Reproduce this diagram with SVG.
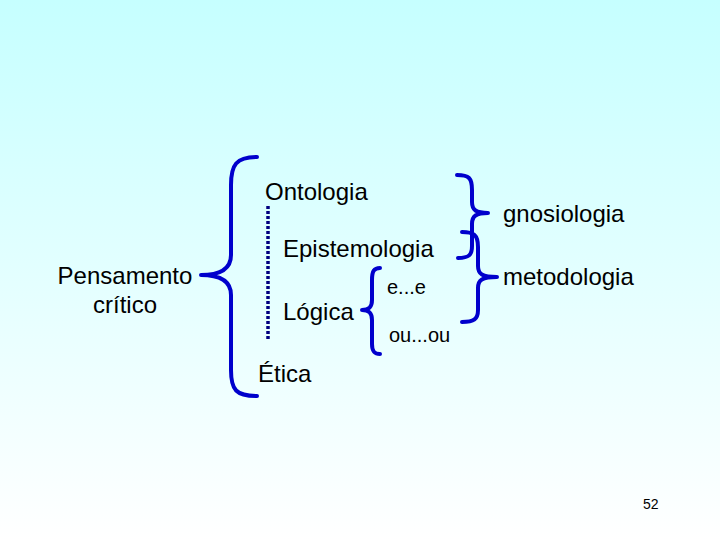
<svg xmlns="http://www.w3.org/2000/svg" width="720" height="540" viewBox="0 0 720 540">
<defs>
<linearGradient id="bg" x1="0" y1="0" x2="0" y2="1">
<stop offset="0" stop-color="#c6ffff"/>
<stop offset="1" stop-color="#ffffff"/>
</linearGradient>
</defs>
<style>
text{font-family:"Liberation Sans",Arial,sans-serif;fill:#000}
.t{font-size:24px}
.s{font-size:20px}
.brace{fill:none;stroke:#0000cc;stroke-width:4;stroke-linecap:round;stroke-linejoin:round}
</style>
<rect width="720" height="540" fill="url(#bg)"/>
<g id="connectors">
<path class="brace" d="M257,157 C236,157 231,165 231,185 L231,255 C231,268 222,275 201,275 C222,275 231,282 231,295 L231,370 C231,390 236,396 257,396"/>
<line x1="268" y1="206" x2="268" y2="341" stroke="#000080" stroke-width="3.5" stroke-dasharray="3,2"/>
<path class="brace" d="M457,175 C469,175 472,178 472,190 L472,202 C472,210 476,213 488,213 C476,213 472,216 472,224 L472,246 C472,255 469,258 458,258"/>
<path class="brace" d="M462,232 C474,232 478,235 478,247 L478,266 C478,274 482,277 497,277 C482,277 478,280 478,288 L478,310 C478,319 474,322 462,322"/>
<path class="brace" d="M380,268 C374,268 372,271 372,280 L372,300 C372,307 369,310 362,310 C369,310 372,313 372,320 L372,344 C372,351 374,354 380,354"/>
</g>
<g id="pensamento"><text class="t" x="125" y="284" text-anchor="middle">Pensamento</text><text class="t" x="125" y="313" text-anchor="middle">crítico</text></g>
<g id="ontologia"><text class="t" x="265" y="200">Ontologia</text></g>
<g id="epistemologia"><text class="t" x="283" y="257">Epistemologia</text></g>
<g id="logica"><text class="t" x="283" y="320">Lógica</text></g>
<g id="etica"><text class="t" x="258" y="382">Ética</text></g>
<g id="ee"><text class="s" x="387" y="294">e...e</text></g>
<g id="ouou"><text class="s" x="389" y="342">ou...ou</text></g>
<g id="gnosiologia"><text class="t" x="503" y="222">gnosiologia</text></g>
<g id="metodologia"><text class="t" x="503" y="285">metodologia</text></g>
<g id="page"><text x="643" y="509" font-size="14">52</text></g>
</svg>
